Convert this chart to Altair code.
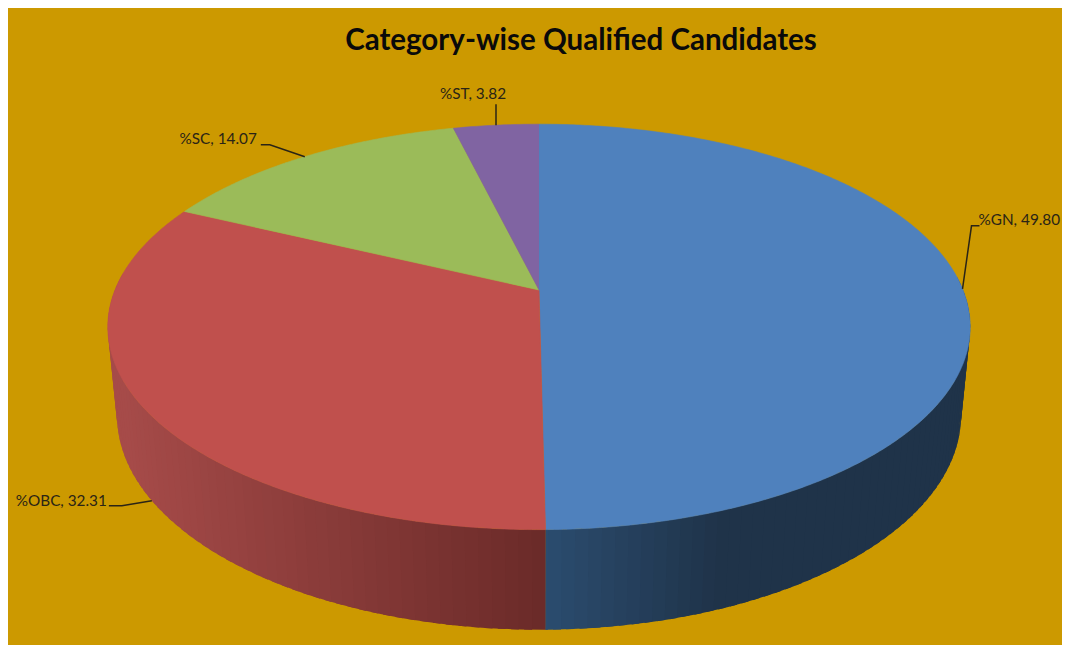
import math
import altair as alt
import pandas as pd

categories = ["GN", "OBC", "SC", "ST"]
shares = [49.80, 32.31, 14.07, 3.82]
title_text = "Category-wise Qualified Candidates"

TOP_COLORS = ["#4F81BD", "#C0504D", "#9BBB59", "#8064A2"]
BACKGROUND = "#CC9900"
W, H = 1054, 637

# projected circle geometry (reference pixel space)
CX, CY, A, B, K, D, M = 539, 290, 424, 196, 0.182, 89, 0.021


def top(theta):
    t = math.radians(theta)
    u, v = math.sin(t), -math.cos(t)
    den = 1 - K * v
    return CX + A * u / den, CY + B * v / den


def bottom(theta):
    t = math.radians(theta)
    u, v = math.sin(t), -math.cos(t)
    den = 1 - K * v + M
    return CX + A * u / den, CY + (B * v + D) / den


def mix(c1, c2, f):
    a = [int(c1[i:i + 2], 16) for i in (1, 3, 5)]
    b = [int(c2[i:i + 2], 16) for i in (1, 3, 5)]
    return "#" + "".join(f"{round(x + (y - x) * f):02x}" for x, y in zip(a, b))


# slice angle ranges from the values
edges = [0.0]
for s in shares:
    edges.append(edges[-1] + s * 3.6)

# side wall strips; each one overlaps the next to hide seams
wall_rows = []
gid = 0
STEP = 1.5
ranges = [
    (86.0, edges[1], "#2b4c6f", "#1f3349", 175),
    (edges[1], 275.0, "#6a2a28", "#a64b49", 425),
]
for lo, hi, near, far, span in ranges:
    th = lo
    while th < hi:
        nxt = min(th + STEP, hi)
        xm = top((th + nxt) / 2)[0]
        f = min(1.0, abs(xm - 546) / span)
        col = mix(near, far, f)
        ext = min(nxt + STEP * 0.6, hi)
        pts = [top(th), top(ext), bottom(ext), bottom(th)]
        for i, (x, y) in enumerate(pts):
            wall_rows.append({"id": gid, "o": i, "x": x, "y": y, "c": col})
        gid += 1
        th = nxt
wall = pd.DataFrame(wall_rows)

# top face wedges
wedge_rows = []
for k, cat in enumerate(categories):
    lo, hi = edges[k], edges[k + 1]
    n = max(4, int((hi - lo) / 0.5))
    wedge_rows.append({"id": cat, "o": 0, "x": CX, "y": CY, "c": TOP_COLORS[k]})
    for j in range(n + 1):
        x, y = top(lo + (hi - lo) * j / n)
        wedge_rows.append({"id": cat, "o": j + 1, "x": x, "y": y, "c": TOP_COLORS[k]})
wedges = pd.DataFrame(wedge_rows)

# leaders and labels: anchored on the slice's mid-angle
elbows = {
    "GN": [(9, -63), (17, -63)],
    "OBC": [(-30, 5), (-43, 5)],
    "SC": [(-35, -12), (-44, -12)],
    "ST": [(0, -21)],
}
text_offsets = {
    "GN": (16, -69, "left"),
    "OBC": (-45, 0, "right"),
    "SC": (-48, -18, "right"),
    "ST": (-23, -31, "center"),
}
leader_rows, label_rows = [], []
for k, cat in enumerate(categories):
    mid = (edges[k] + edges[k + 1]) / 2
    ax, ay = bottom(mid) if 180 < mid < 270 else top(mid)
    leader_rows.append({"id": cat, "o": 0, "x": ax, "y": ay})
    for j, (dx, dy) in enumerate(elbows[cat]):
        leader_rows.append({"id": cat, "o": j + 1, "x": ax + dx, "y": ay + dy})
    tx, ty, al = text_offsets[cat]
    label_rows.append({"x": ax + tx, "y": ay + ty, "t": f"%{cat}, {shares[k]:.2f}", "al": al})
leaders = pd.DataFrame(leader_rows)
labels = pd.DataFrame(label_rows)

xs = alt.Scale(domain=[8, 8 + W], range=[0, W], nice=False, zero=False)
ys = alt.Scale(domain=[8 + H, 8], range=[H, 0], nice=False, zero=False)
X = alt.X("x:Q", scale=xs, axis=None)
Y = alt.Y("y:Q", scale=ys, axis=None)

wall_layer = alt.Chart(wall).mark_line(strokeWidth=0, interpolate="linear").encode(
    x=X, y=Y, detail="id:N", order="o:Q", fill=alt.Fill("c:N", scale=None)
)
wedge_layer = alt.Chart(wedges).mark_line(strokeWidth=0.6, interpolate="linear").encode(
    x=X, y=Y, detail="id:N", order="o:Q",
    fill=alt.Fill("c:N", scale=None),
    stroke=alt.Stroke("c:N", scale=None),
)
lead = alt.Chart(leaders).mark_line(color="#2a2416", strokeWidth=1.5).encode(
    x=X, y=Y, detail="id:N", order="o:Q"
)
layers = [wall_layer, wedge_layer, lead]
for al in ("left", "right", "center"):
    sub = labels[labels.al == al]
    layers.append(
        alt.Chart(sub).mark_text(font="Lato", fontSize=15.3, color="#2a2416", align=al, baseline="middle").encode(
            x=X, y=Y, text="t:N"
        )
    )

chart = (
    alt.layer(*layers)
    .properties(
        width=W,
        height=H,
        background=BACKGROUND,
        padding=0,
        autosize=alt.AutoSizeParams(type="none"),
        title=alt.TitleParams(
            title_text, font="Lato", fontSize=29.5, fontWeight="bold", color="#0a0a0a",
            anchor="middle", orient="top", dx=46, dy=48, offset=0,
        ),
    )
    .configure_view(stroke=None)
)
chart.save("out.html", embed_options={"renderer": "svg", "actions": False})
